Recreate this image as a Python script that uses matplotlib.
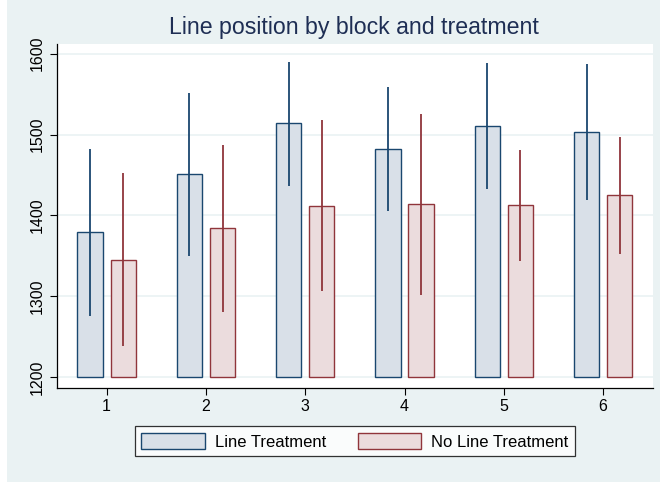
import numpy as np
import matplotlib
matplotlib.use('Agg')
import matplotlib.pyplot as plt
from matplotlib.patches import Rectangle

plt.rcParams['font.family'] = ['Liberation Sans', 'DejaVu Sans']

blocks = [1, 2, 3, 4, 5, 6]
line_mean = [1380, 1451, 1514, 1482, 1511, 1503]
line_lo = [1276, 1350, 1437, 1405, 1433, 1419]
line_hi = [1482, 1551, 1590, 1559, 1588, 1587]
noline_mean = [1345, 1384, 1412, 1414, 1413, 1425]
noline_lo = [1238, 1280, 1306, 1301, 1344, 1352]
noline_hi = [1452, 1487, 1518, 1526, 1481, 1497]
yticks = [1200, 1300, 1400, 1500, 1600]

navy = '#1a476f'
maroon = '#90353b'
bg = '#eaf2f3'

fig = plt.figure(figsize=(6.6, 4.82), dpi=100, facecolor=bg)
# thin white strip on the left edge
fig.patches.append(Rectangle((0, 0), 7 / 660, 1, transform=fig.transFigure,
                             facecolor='white', edgecolor='none', zorder=-1))
ax = fig.add_axes([0.0864, 0.1957, 0.9026, 0.713])
ax.set_facecolor('white')

x = np.array(blocks)
base = 1200
off = 0.167
w = 0.254
ax.bar(x - off, np.array(line_mean) - base, width=w, bottom=base,
       color='#d9e0e8', edgecolor=navy, linewidth=1, label='Line Treatment', zorder=2)
ax.bar(x + off, np.array(noline_mean) - base, width=w, bottom=base,
       color='#ebdcdd', edgecolor=maroon, linewidth=1, label='No Line Treatment', zorder=2)
ax.vlines(x - off, line_lo, line_hi, color=navy, linewidth=1.3, zorder=3)
ax.vlines(x + off, noline_lo, noline_hi, color=maroon, linewidth=1.3, zorder=3)

ax.set_xlim(0.5, 6.5)
ax.set_ylim(1187, 1612)
ax.set_xticks(blocks)
ax.set_yticks(yticks)
ax.set_yticklabels([str(t) for t in yticks], rotation=90, va='center')
ax.tick_params(labelsize=11.5, length=5, width=0.8, color='black')
ax.grid(axis='y', color=bg, linewidth=1.2, zorder=0)
ax.set_axisbelow(True)
for s in ['top', 'right']:
    ax.spines[s].set_visible(False)
for s in ['left', 'bottom']:
    ax.spines[s].set_linewidth(0.9)

fig.text(0.537, 0.942, 'Line position by block and treatment', ha='center', va='center',
         fontsize=16.7, color='#1e2e54')

leg = fig.legend(loc='center', bbox_to_anchor=(0.5376, 0.0843), ncol=2, fontsize=12,
                 handlelength=3.8, handleheight=1.05, handletextpad=0.6, columnspacing=1.9,
                 borderpad=0.4, frameon=True, fancybox=False, edgecolor='black')
leg.get_frame().set_linewidth(0.9)

fig.savefig('out.png', dpi=100, facecolor=bg)
